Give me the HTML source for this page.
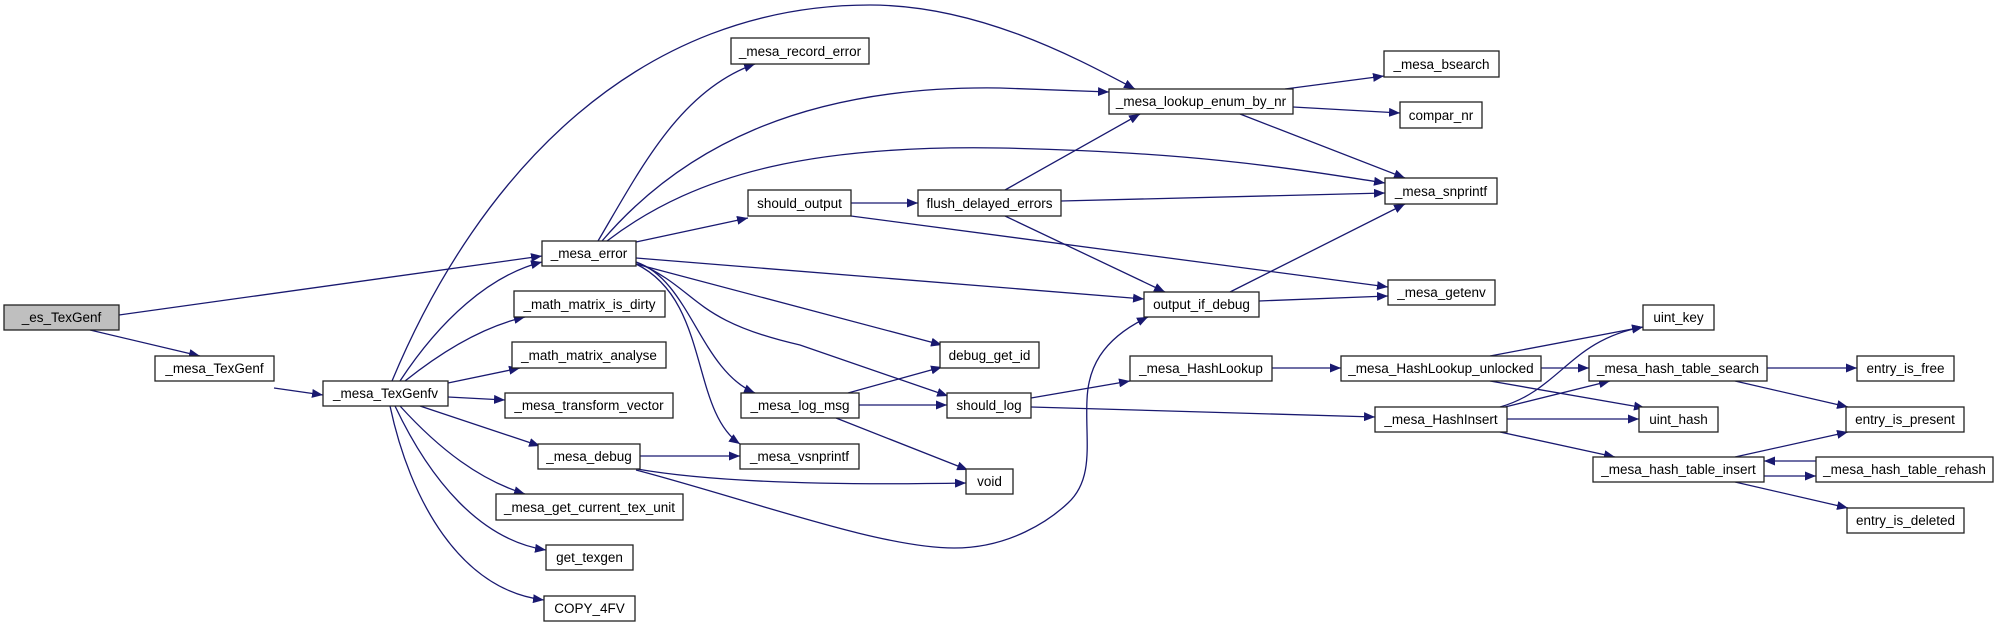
<!DOCTYPE html>
<html><head><meta charset="utf-8"><style>
html,body{margin:0;padding:0;background:#fff;}
svg{display:block;}
text{font-family:"Liberation Sans",Arial,sans-serif;font-size:13.5px;fill:#000;}
</style></head><body>
<svg width="2000" height="627" viewBox="0 0 2000 627" xmlns="http://www.w3.org/2000/svg">
<defs>
<marker id="a" markerUnits="userSpaceOnUse" markerWidth="12" markerHeight="9" refX="11" refY="4.5" orient="auto">
<path d="M0,0 L11,4.5 L0,9 z" fill="#191970"/>
</marker>
</defs>
<g fill="none" stroke="#191970" stroke-width="1.3" marker-end="url(#a)">
<path d="M119,315 L542,256"/>
<path d="M90,330 L200,356"/>
<path d="M274,388 L323,395"/>
<path d="M400,381 C440,320 490,275 542,262"/>
<path d="M392,381 C480,170 640,5 870,5 C980,5 1080,60 1135,89"/>
<path d="M405,381 C450,345 490,325 525,317"/>
<path d="M448,383 L520,368"/>
<path d="M448,397 L505,400"/>
<path d="M420,406 L540,446"/>
<path d="M400,406 C440,450 480,480 525,494"/>
<path d="M395,406 C430,480 480,540 546,550"/>
<path d="M390,406 C410,500 460,590 544,600"/>
<path d="M598,241 C640,170 680,90 755,64"/>
<path d="M602,241 C680,150 800,85 1000,88 L1109,92"/>
<path d="M607,241 C700,170 820,145 1000,148 C1200,152 1300,170 1385,183"/>
<path d="M636,242 L748,218"/>
<path d="M636,258 L1144,299"/>
<path d="M636,264 L942,345"/>
<path d="M636,262 C700,290 690,320 800,345 L948,396"/>
<path d="M636,262 C690,280 700,370 755,393"/>
<path d="M636,264 C710,300 690,410 740,444"/>
<path d="M851,203 L918,203"/>
<path d="M851,216 L1388,287"/>
<path d="M1005,190 L1140,114"/>
<path d="M1061,201 L1385,193"/>
<path d="M1005,216 L1165,292"/>
<path d="M1285,89 L1384,76"/>
<path d="M1293,107 L1400,113"/>
<path d="M1240,114 L1405,178"/>
<path d="M1230,292 L1405,204"/>
<path d="M1259,301 L1388,296"/>
<path d="M848,393 L942,367"/>
<path d="M859,405 L947,405"/>
<path d="M836,418 L968,470"/>
<path d="M640,456 L740,456"/>
<path d="M637,469 C700,480 800,486 966,483"/>
<path d="M636,470 C750,500 880,548 954,548 C1010,548 1050,520 1068,503 C1095,478 1085,440 1087,400 C1088,370 1100,340 1148,317"/>
<path d="M1031,398 L1130,381"/>
<path d="M1031,407 L1375,417"/>
<path d="M1272,368 L1341,368"/>
<path d="M1490,356 L1643,327"/>
<path d="M1541,368 L1589,368"/>
<path d="M1490,381 L1645,408"/>
<path d="M1500,407 C1560,390 1570,340 1643,327"/>
<path d="M1505,407 L1610,381"/>
<path d="M1507,419 L1639,419"/>
<path d="M1500,432 L1615,457"/>
<path d="M1767,368 L1857,368"/>
<path d="M1735,381 L1848,407"/>
<path d="M1735,457 L1848,432"/>
<path d="M1764,476 L1816,476"/>
<path d="M1816,461 L1764,461"/>
<path d="M1735,482 L1848,508"/>
</g>
<g stroke="#222" stroke-width="1.3" fill="#fff">
<rect x="4" y="305" width="115" height="25" fill="#bfbfbf"/>
<rect x="155" y="356" width="119" height="25"/>
<rect x="323" y="381" width="125" height="25"/>
<rect x="542" y="241" width="94" height="25"/>
<rect x="514" y="291" width="151" height="26"/>
<rect x="512" y="342" width="154" height="26"/>
<rect x="505" y="393" width="168" height="25"/>
<rect x="538" y="444" width="102" height="25"/>
<rect x="496" y="494" width="187" height="26"/>
<rect x="546" y="545" width="87" height="25"/>
<rect x="544" y="596" width="91" height="25"/>
<rect x="731" y="38" width="138" height="26"/>
<rect x="748" y="190" width="103" height="26"/>
<rect x="741" y="393" width="118" height="25"/>
<rect x="740" y="444" width="119" height="25"/>
<rect x="918" y="190" width="143" height="26"/>
<rect x="940" y="342" width="99" height="26"/>
<rect x="947" y="393" width="84" height="25"/>
<rect x="966" y="469" width="47" height="25"/>
<rect x="1109" y="89" width="184" height="25"/>
<rect x="1144" y="292" width="115" height="25"/>
<rect x="1130" y="356" width="142" height="25"/>
<rect x="1384" y="51" width="115" height="26"/>
<rect x="1400" y="102" width="82" height="26"/>
<rect x="1385" y="178" width="112" height="26"/>
<rect x="1388" y="280" width="107" height="25"/>
<rect x="1341" y="356" width="200" height="25"/>
<rect x="1375" y="407" width="132" height="25"/>
<rect x="1643" y="305" width="71" height="25"/>
<rect x="1589" y="356" width="178" height="25"/>
<rect x="1639" y="407" width="79" height="25"/>
<rect x="1857" y="356" width="97" height="25"/>
<rect x="1846" y="407" width="118" height="25"/>
<rect x="1593" y="457" width="171" height="25"/>
<rect x="1816" y="457" width="177" height="25"/>
<rect x="1847" y="508" width="117" height="25"/>
</g>
<g text-anchor="middle">
<text x="61.5" y="322">_es_TexGenf</text>
<text x="214.5" y="373">_mesa_TexGenf</text>
<text x="385.5" y="398">_mesa_TexGenfv</text>
<text x="589" y="258">_mesa_error</text>
<text x="589.5" y="309">_math_matrix_is_dirty</text>
<text x="589" y="360">_math_matrix_analyse</text>
<text x="589" y="410">_mesa_transform_vector</text>
<text x="589" y="461">_mesa_debug</text>
<text x="589.5" y="512">_mesa_get_current_tex_unit</text>
<text x="589.5" y="562">get_texgen</text>
<text x="589.5" y="613">COPY_4FV</text>
<text x="800" y="56">_mesa_record_error</text>
<text x="799.5" y="208">should_output</text>
<text x="800" y="410">_mesa_log_msg</text>
<text x="799.5" y="461">_mesa_vsnprintf</text>
<text x="989.5" y="208">flush_delayed_errors</text>
<text x="989.5" y="360">debug_get_id</text>
<text x="989" y="410">should_log</text>
<text x="989.5" y="486">void</text>
<text x="1201" y="106">_mesa_lookup_enum_by_nr</text>
<text x="1201.5" y="309">output_if_debug</text>
<text x="1201" y="373">_mesa_HashLookup</text>
<text x="1441.5" y="69">_mesa_bsearch</text>
<text x="1441" y="120">compar_nr</text>
<text x="1441" y="196">_mesa_snprintf</text>
<text x="1441.5" y="297">_mesa_getenv</text>
<text x="1441" y="373">_mesa_HashLookup_unlocked</text>
<text x="1441" y="424">_mesa_HashInsert</text>
<text x="1678.5" y="322">uint_key</text>
<text x="1678" y="373">_mesa_hash_table_search</text>
<text x="1678.5" y="424">uint_hash</text>
<text x="1905.5" y="373">entry_is_free</text>
<text x="1905" y="424">entry_is_present</text>
<text x="1678.5" y="474">_mesa_hash_table_insert</text>
<text x="1904.5" y="474">_mesa_hash_table_rehash</text>
<text x="1905.5" y="525">entry_is_deleted</text>
</g>
</svg>
</body></html>
